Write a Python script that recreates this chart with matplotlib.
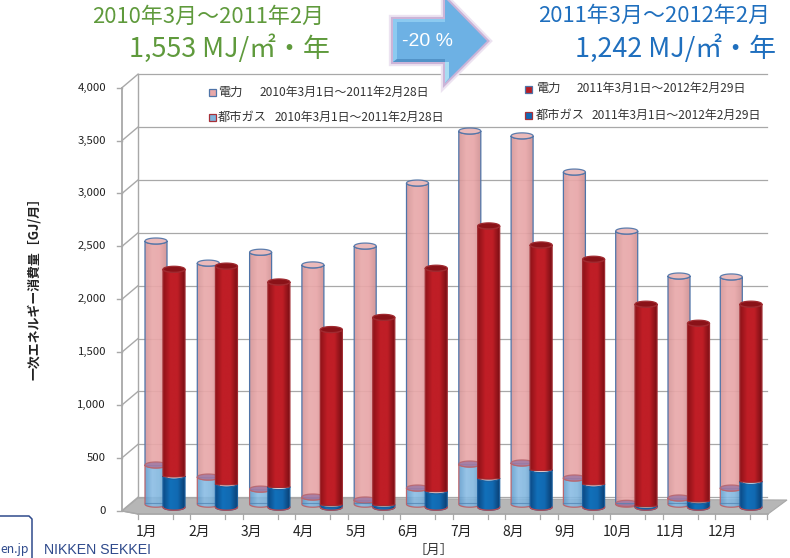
import numpy as np
import matplotlib
matplotlib.use('Agg')
import matplotlib.pyplot as plt
from matplotlib.patches import Polygon
from matplotlib.colors import LinearSegmentedColormap
import matplotlib.patheffects as pe

plt.rcParams['font.family'] = ['Noto Sans CJK JP', 'DejaVu Sans']

months = ['1月', '2月', '3月', '4月', '5月', '6月', '7月', '8月', '9月', '10月', '11月', '12月']
# 2010-2011, stack totals and gas part
total_2010 = [2489, 2280, 2383, 2263, 2441, 3037, 3529, 3483, 3141, 2583, 2158, 2149]
gas_2010 = [371, 257, 143, 68, 40, 153, 380, 390, 248, 8, 59, 153]
# 2011-2012
total_2011 = [2250, 2280, 2130, 1680, 1795, 2260, 2660, 2480, 2345, 1920, 1740, 1920]
gas_2011 = [295, 220, 195, 25, 25, 155, 275, 355, 220, 15, 60, 245]
yticks = [0, 500, 1000, 1500, 2000, 2500, 3000, 3500, 4000]

W, H = 790, 558
X0, DX = 156.0, 52.3
Y0, SY = 510.7, 0.10575

fig = plt.figure(figsize=(W / 100, H / 100), dpi=100)
ax = fig.add_axes([0, 0, 1, 1])
ax.set_xlim((0 - X0) / DX, (W - X0) / DX)
ax.set_ylim((Y0 - H) / SY, Y0 / SY)
ax.axis('off')


def dx(px):
    return px / DX


def dy(px):
    return px / SY


def pt(x, y):
    return ((x - X0) / DX, (Y0 - y) / SY)


def label(x, y, s, **kw):
    kw.setdefault('ha', 'left')
    kw.setdefault('va', 'center')
    fig.text(x / W, 1 - y / H, s, **kw)


GRID = '#a8a8a8'
# floor
ax.add_patch(Polygon([pt(122, 511), pt(138, 498), pt(787, 500), pt(768, 514), pt(138, 514)],
                     fc='#b6b6b6', ec='#a8a8a8', lw=0.8, zorder=1))
# back wall grid and side wall connectors
for t in yticks:
    ax.plot([pt(138, 0)[0], pt(767, 0)[0]], [t + dy(13.5)] * 2, color=GRID, lw=0.9, zorder=1)
    ax.plot([pt(122, 0)[0], pt(138, 0)[0]], [t, t + dy(13.5)], color=GRID, lw=1.0, zorder=1)
    ax.plot([pt(117, 0)[0], pt(122, 0)[0]], [t, t], color=GRID, lw=1.0, zorder=1)
    label(106, Y0 - t * SY, f'{t:,}', ha='right', fontsize=8.2, color='#222222')
ax.plot([pt(122, 0)[0]] * 2, [0, 4000], color=GRID, lw=1.3, zorder=1)
ax.plot([pt(138, 0)[0]] * 2, [dy(13.5), 4000 + dy(13.5)], color=GRID, lw=1.0, zorder=1)

# front edge ticks
ax.plot(*zip(pt(122, 511), pt(138, 514)), color=GRID, lw=1.0, zorder=1)
ax.plot(*zip(pt(138, 514), pt(768, 514)), color=GRID, lw=1.2, zorder=1)
for i in range(13):
    xp = 138 + 52.45 * i
    ax.plot(*zip(pt(xp, 514), pt(xp, 519)), color=GRID, lw=0.9, zorder=1)
    if i < 12:
        ax.plot(*zip(pt(xp + 35, 514), pt(xp + 35, 519)), color=GRID, lw=0.9, zorder=1)
for i, m in enumerate(months):
    label(147 + 52.3 * i, 532, m, ha='center', fontsize=10, color='#222222')

pink = LinearSegmentedColormap.from_list('p', ['#d59698', '#e9a9aa', '#e8a6a8', '#d09092'])
lblue = LinearSegmentedColormap.from_list('b', ['#5f9bcc', '#88bce4', '#7fb5de', '#5a94c4'])
red = LinearSegmentedColormap.from_list('r', ['#8e1218', '#c01e26', '#bf1e26', '#7a0e14'])
dblue = LinearSegmentedColormap.from_list('d', ['#0b4a86', '#1270ba', '#116ab2', '#0a3f73'])
grad = np.linspace(0, 1, 64).reshape(1, -1)


def segment(x, w, y0, y1, cmap, edge, lid, alpha, z, low_ry=3.0, lid_on=True, rim=None):
    # one cylinder section, rounded at the bottom
    rx = w / 2
    ry = dy(3.0)
    t = np.linspace(np.pi, 2 * np.pi, 30)
    low = np.c_[x + rx * np.cos(t), y0 + dy(low_ry) * np.sin(t)]
    up = np.c_[x + rx * np.cos(t[::-1]), y1 + ry * np.sin(t[::-1])]
    verts = np.vstack([low, up])
    im = ax.imshow(grad, cmap=cmap, extent=(x - rx, x + rx, y0 - ry, y1 + ry),
                   aspect='auto', alpha=alpha, zorder=z, interpolation='bilinear')
    poly = Polygon(verts, fc='none', ec=edge, lw=0.9, zorder=z + 0.1)
    ax.add_patch(poly)
    im.set_clip_path(poly)
    if rim:
        ax.plot(low[:, 0], low[:, 1], color=rim, lw=0.9, zorder=z + 0.15)
    if lid_on:
        t2 = np.linspace(0, 2 * np.pi, 40)
        ax.add_patch(Polygon(np.c_[x + rx * np.cos(t2), y1 + ry * np.sin(t2)],
                             fc=lid, ec=edge, lw=0.9, alpha=alpha, zorder=z + 0.2))


WB = dx(22)
for i in range(12):
    xa = i
    base = dy(6.5)
    segment(xa, WB, base + gas_2010[i], base + total_2010[i], pink, '#4f74a8', '#e9b4b5', 0.92,
            2 + i * 0.01, low_ry=1.0)
    segment(xa, WB, base, base + gas_2010[i], lblue, '#b8666e', '#a07aa4', 0.88, 2.5 + i * 0.01)
    ax.plot([xa - WB / 2, xa + WB / 2], [dy(7.7)] * 2, color='#4f80b0', lw=0.8, alpha=0.7, zorder=3)
for i in range(12):
    xb = 18 / DX + i * 52.45 / DX
    base = dy(3.5)
    segment(xb, WB, base, base + gas_2011[i], dblue, '#1a5f9e', '#0f5fa8', 1, 4 + i * 0.01,
            lid_on=False, rim='#b84a52')
    segment(xb, WB, base + gas_2011[i], base + total_2011[i], red, '#a02a30', '#8a1218', 1,
            4.5 + i * 0.01, low_ry=1.0)

ax.set_xlim((0 - X0) / DX, (W - X0) / DX)
ax.set_ylim((Y0 - H) / SY, Y0 / SY)


# legends
def key(x, y, fc, ec):
    ax.add_patch(Polygon([pt(x - 3.5, y - 3.5), pt(x + 3.5, y - 3.5), pt(x + 3.5, y + 3.5), pt(x - 3.5, y + 3.5)],
                         fc=fc, ec=ec, lw=0.9, zorder=8))


key(212, 92, '#e8a8a8', '#4f74a8')
key(212, 117, '#7fb3dc', '#a83038')
key(528, 89, '#b81c24', '#4f74a8')
key(528, 115, '#1268b3', '#a83038')
TC = '#333333'
label(218, 92, '電力', fontsize=8.8, color=TC)
label(260, 92, '2010年3月1日～2011年2月28日', fontsize=8.6, color=TC)
label(218, 117, '都市ガス', fontsize=8.8, color=TC)
label(275, 117, '2010年3月1日～2011年2月28日', fontsize=8.6, color=TC)
label(536, 88, '電力', fontsize=8.8, color=TC)
label(577, 88, '2011年3月1日～2012年2月29日', fontsize=8.6, color=TC)
label(536, 115, '都市ガス', fontsize=8.8, color=TC)
label(592, 115, '2011年3月1日～2012年2月29日', fontsize=8.6, color=TC)

# axis titles
label(34, 285.5, '一次エネルギー消費量［GJ/月］', rotation=90, ha='center', fontsize=9.3,
      color='#222222', fontweight='bold')
label(434, 550, '［月］', ha='center', fontsize=9.6, color='#333333')

# headline
GREEN = '#5f9a3c'
BLUE = '#1f6fbe'
label(92, 17, '2010年3月～2011年2月', fontsize=15.8, color=GREEN)
label(129, 49, '1,553 MJ/㎡・年', fontsize=19.4, color=GREEN)
label(538, 16, '2011年3月～2012年2月', fontsize=15.8, color=BLUE)
label(575, 49, '1,242 MJ/㎡・年', fontsize=19.4, color=BLUE)

# arrow
arrow = [pt(393, 19), pt(445, 19), pt(445, -2), pt(487, 41), pt(445, 83), pt(445, 62), pt(393, 62)]
glow = Polygon(arrow, fc='#6db1e4', ec='none', zorder=9,
               path_effects=[pe.Stroke(linewidth=6, foreground='#ece3f1'),
                             pe.Stroke(linewidth=3, foreground='#cbb4d8'), pe.Normal()])
ax.add_patch(glow)
ax.add_patch(Polygon([pt(393, 19), pt(445, 19), pt(445, 22), pt(397, 22), pt(397, 59), pt(393, 62)],
                     fc='#8ccaf0', ec='none', zorder=9.1))
ax.add_patch(Polygon([pt(393, 62), pt(397, 59), pt(445, 59), pt(445, 62)], fc='#5293c8', ec='none', zorder=9.1))
ax.add_patch(Polygon([pt(445, 83), pt(445, 62), pt(449, 62), pt(449, 78)], fc='#a8dcf2', ec='none', zorder=9.1))
label(402, 41, '-20 %', fontsize=14, color='white', zorder=10, family=['Liberation Sans', 'DejaVu Sans'])

# logo fragment
NAVY = '#2f4a8c'
ax.plot(*zip(pt(-2, 516), pt(29, 516), pt(32, 519), pt(32, 558)), color=NAVY, lw=1.1, zorder=8)
label(0, 550, 'en.jp', fontsize=8.8, color=NAVY)
label(44, 550, 'NIKKEN SEKKEI', fontsize=10.2, color=NAVY, family=['Liberation Sans', 'DejaVu Sans'])

fig.savefig('out.png', dpi=100)
